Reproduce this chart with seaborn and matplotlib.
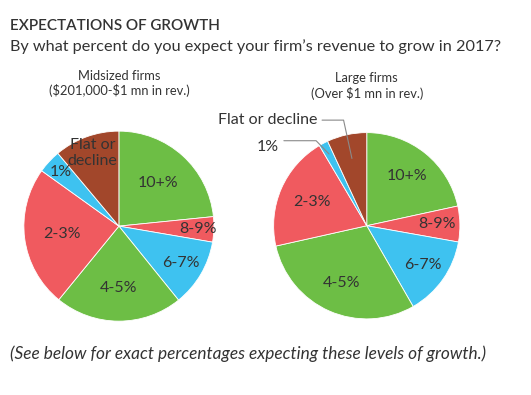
import numpy as np
import matplotlib
matplotlib.use('Agg')
import matplotlib.pyplot as plt
import seaborn as sns

# Data (share of firms, %), clockwise from 12 o'clock
categories = ['10+%', '8-9%', '6-7%', '4-5%', '2-3%', '1%', 'Flat or decline']
midsized = [23.4, 4.3, 11.5, 21.7, 24.0, 4.0, 11.1]
large = [21.6, 6.2, 13.9, 29.8, 20.0, 1.6, 6.9]

pie_titles = ['Midsized firms\n(\\$201,000-\\$1 mn in rev.)',
              'Large firms\n(Over \\$1 mn in rev.)']

sns.set_theme(style='white')
plt.rcParams['font.family'] = ['Lato', 'DejaVu Sans']

green, red, blue, brown = '#6dbe45', '#f05a5f', '#3ec2f0', '#a2472b'
colors = [green, red, blue, green, red, blue, brown]
txt = '#333333'
lab_size = 11.5

fig = plt.figure(figsize=(5.31, 3.95), dpi=100)

fig.text(0.019, 0.935, 'EXPECTATIONS OF GROWTH', fontsize=11, color=txt,
         fontweight='semibold', va='center')
fig.text(0.019, 0.883, 'By what percent do you expect your firm\u2019s revenue to grow in 2017?',
         fontsize=11.7, color=txt, va='center')
fig.text(0.019, 0.105, '(See below for exact percentages expecting these levels of growth.)',
         fontsize=12.4, color=txt, style='italic', va='center')

ax1 = fig.add_axes([0.0414, 0.182, 0.365, 0.491])
ax2 = fig.add_axes([0.5117, 0.188, 0.358, 0.481])

# label distances (fraction of radius) per slice
left_r = [0.61, 0.83, 0.76, 0.65, 0.60, 0.84, 0.82]
right_r = [0.69, 0.75, 0.73, 0.67, 0.64]


def draw_pie(ax, values, title):
    wedges, _ = ax.pie(values, colors=colors, startangle=90, counterclock=False,
                       wedgeprops=dict(edgecolor='white', linewidth=0.6))
    ax.set_xlim(-1.02, 1.02)
    ax.set_ylim(-1.02, 1.02)
    ax.set_aspect('equal')
    ax.axis('off')
    ax.text(0, 1.5, title, ha='center', va='center', fontsize=9.3,
            color=txt, linespacing=1.2)
    return wedges


def mid_point(w, r):
    t = np.deg2rad((w.theta1 + w.theta2) / 2)
    return r * np.cos(t), r * np.sin(t)


w1 = draw_pie(ax1, midsized, pie_titles[0])
for w, lab, r in zip(w1, categories, left_r):
    x, y = mid_point(w, r)
    lab = 'Flat or\ndecline' if lab == 'Flat or decline' else lab
    ax1.text(x, y, lab, ha='center', va='center', fontsize=lab_size, color=txt,
             linespacing=1.2)

w2 = draw_pie(ax2, large, pie_titles[1])
for w, lab, r in zip(w2[:5], categories[:5], right_r):
    x, y = mid_point(w, r)
    ax2.text(x, y, lab, ha='center', va='center', fontsize=lab_size, color=txt)

# outside labels with leader lines on the large-firm pie
callouts = [(6, 0.74, (-0.53, 1.134), (-0.249, 1.134)),
            (5, 0.87, (-0.94, 0.85), (-0.544, 0.913))]
for idx, r, (tx, ty), (ex, ey) in callouts:
    px, py = mid_point(w2[idx], r)
    ax2.text(tx, ty, categories[idx], ha='right', va='center', fontsize=lab_size,
             color=txt)
    sx = tx + 0.05
    ax2.plot([sx, ex, px], [ey, ey, py], color='#8a8a8a', lw=0.8,
             clip_on=False)

fig.savefig('out.png', dpi=100)
